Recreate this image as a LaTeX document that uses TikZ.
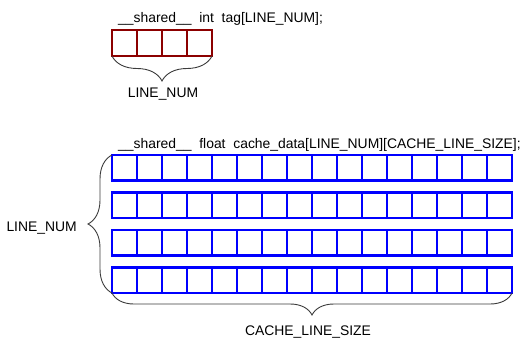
\documentclass[tikz,border=0pt]{standalone}
\usepackage{fontspec}
\setmainfont{Liberation Sans}
\usetikzlibrary{positioning, decorations.pathreplacing}

\begin{document}
\begin{tikzpicture}[x=1pt, y=-1pt]
		\tikzset{
			cell/.style={draw, rectangle, inner sep=0pt, outer sep=0pt, line width=2.5pt, minimum width=25pt},
			tagcell/.style={cell, draw={rgb,255:red,140;green,0;blue,0}, minimum height=26pt},
			datacell/.style={cell, draw={rgb,255:red,0;green,0;blue,255}, minimum height=25.5pt},
			bracket/.style={draw={rgb,255:red,60;green,60;blue,60}, line width=0.9pt, decorate},
			every node/.style={font=\fontsize{13.9}{16}\selectfont, inner sep=0pt}
		}
		\useasboundingbox (0,0) rectangle (521,337);
		
		% Declarations
		\node[anchor=base west] (tagdecl) at (118,22.5) {\_\_shared\_\_\ \ int\ \ tag[LINE\_NUM];};
		\node[anchor=base west] (datadecl) at (118,148.5) {\_\_shared\_\_\ \ float\ \ cache\_data[LINE\_NUM][CACHE\_LINE\_SIZE];};
		
		% Tag array
		\foreach \c in {1,...,4}
			\node[tagcell] (tag\c) at (99.5+25*\c, 43) {};
		
		% Cache data array
		\foreach \r in {1,...,4}
			\foreach \c in {1,...,16}
				\node[datacell] (data\r-\c) at (99.5+25*\c, 130.25+37.5*\r) {};
		
		% Braces
		\draw[bracket, decoration={brace, amplitude=25pt}] (tag4.south east) -- (tag1.south west);
		\draw[bracket, decoration={brace, amplitude=24pt}] (data4-1.south west) -- (data1-1.north west);
		\draw[bracket, decoration={brace, amplitude=22pt}] (data4-16.south east) -- (data4-1.south west);
		
		% Labels
		\node[anchor=base] (tagnum) at (163,97.5) {LINE\_NUM};
		\node[anchor=base east] (linenum) at (77,231.5) {LINE\_NUM};
		\node[anchor=base] (linesize) at (308,335) {CACHE\_LINE\_SIZE};
		
\end{tikzpicture}
\end{document}
